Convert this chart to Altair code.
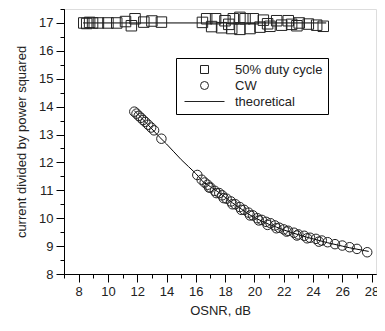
import altair as alt
import pandas as pd

# ---- data ----
duty_x = [8.35, 8.55, 8.75, 8.95, 9.35, 10.0, 10.6, 11.2, 11.85, 12.45, 13.0, 13.65, 11.6,
          16.45, 16.74, 17.35, 17.99, 18.56, 19.01, 19.36, 19.92, 20.61, 21.52, 22.31, 23.06, 23.68, 24.25, 24.7,
          17.08, 17.76, 18.45, 19.01, 19.7, 20.38, 21.06, 21.86, 22.54,
          18.25, 20.9, 22.9]
duty_y = [17.0, 16.98, 17.02, 17.0, 17.0, 17.0, 17.0, 17.05, 17.15, 17.03, 17.07, 17.03, 16.9,
          17.02, 17.15, 17.15, 17.08, 17.15, 17.2, 17.15, 17.15, 17.1, 17.08, 17.08, 17.0, 16.96, 16.92, 16.88,
          16.87, 16.83, 16.8, 16.77, 16.8, 16.85, 16.88, 16.92, 16.95,
          16.95, 16.97, 16.9]

cw_x = [11.8, 11.95, 12.1, 12.25, 12.4, 12.55, 12.75, 12.95, 13.15, 13.65,
        16.1, 16.4, 16.6, 16.8, 17.0, 17.3, 17.6, 17.8, 18.1, 18.4, 18.7, 19.0, 19.3, 19.6, 19.9,
        20.2, 20.5, 20.8, 21.1, 21.4, 21.7, 22.0, 22.3, 22.7, 23.0, 23.4, 23.8, 24.2, 24.6, 25.0,
        25.5, 26.0, 26.5, 27.0, 27.7,
        16.9, 17.4, 17.9, 18.5, 19.1, 19.7, 20.3, 20.9, 21.5, 22.2, 22.9, 23.6, 24.4]
cw_y = [13.82, 13.75, 13.67, 13.6, 13.52, 13.45, 13.35, 13.25, 13.15, 12.85,
        11.55, 11.38, 11.28, 11.2, 11.1, 10.98, 10.9, 10.82, 10.7, 10.6, 10.5, 10.4, 10.3, 10.2, 10.1,
        10.0, 9.94, 9.87, 9.82, 9.74, 9.66, 9.6, 9.55, 9.48, 9.42, 9.37, 9.3, 9.26, 9.2, 9.14,
        9.07, 9.02, 8.96, 8.9, 8.78,
        11.1, 10.9, 10.72, 10.5, 10.3, 10.1, 9.92, 9.76, 9.64, 9.52, 9.38, 9.28, 9.16]

theo_flat_x = [8.3, 24.9]
theo_flat_y = [17.0, 17.0]
theo_curve_x = [11.8, 12.0, 12.5, 13.0, 13.5, 14.0, 14.5, 15.0, 15.5, 16.0, 16.5, 17.0, 17.5, 18.0,
                18.5, 19.0, 19.5, 20.0, 20.5, 21.0, 21.5, 22.0, 22.5, 23.0, 23.5, 24.0, 24.5, 25.0,
                25.5, 26.0, 26.5, 27.0, 27.5, 27.8]
theo_curve_y = [13.85, 13.75, 13.48, 13.2, 12.92, 12.66, 12.38, 12.1, 11.85, 11.6, 11.3, 11.13, 10.95, 10.75,
                10.55, 10.37, 10.18, 10.02, 9.9, 9.78, 9.68, 9.58, 9.49, 9.41, 9.33, 9.26, 9.19, 9.12,
                9.06, 9.0, 8.94, 8.89, 8.84, 8.81]

series_names = ["50% duty cycle", "CW", "theoretical"]

x_major = [8, 10, 12, 14, 16, 18, 20, 22, 24, 26, 28]
x_minor = list(range(7, 29))
y_major = list(range(8, 18))
y_minor = [v / 2 for v in range(16, 36)]

# ---- frames ----
duty_df = pd.DataFrame({"x": duty_x, "y": duty_y, "series": series_names[0]})
cw_df = pd.DataFrame({"x": cw_x, "y": cw_y, "series": series_names[1]})
theo_df = pd.concat([
    pd.DataFrame({"x": theo_flat_x, "y": theo_flat_y, "seg": "flat"}),
    pd.DataFrame({"x": theo_curve_x, "y": theo_curve_y, "seg": "curve"}),
])

FONT = "Liberation Sans"
TXT = "#222222"
xscale = alt.Scale(domain=[7, 28.3], nice=False, zero=False)
yscale = alt.Scale(domain=[8, 17.5], nice=False, zero=False)

shape_scale = alt.Scale(domain=series_names, range=["square", "circle", "M-5,0H5"])

minor_x = alt.X("x:Q", scale=xscale, title=None,
                axis=alt.Axis(values=x_minor, tickSize=4, labels=False, orient="bottom",
                              domainColor="black", tickColor="black", grid=False))
minor_y = alt.Y("y:Q", scale=yscale, title=None,
                axis=alt.Axis(values=y_minor, tickSize=4, labels=False, orient="left",
                              domainColor="black", tickColor="black", grid=False))
major_x = alt.X("x:Q", scale=xscale, title="OSNR, dB",
                axis=alt.Axis(values=x_major, tickSize=8, orient="bottom", labelFont=FONT,
                              labelFontSize=13, labelColor=TXT, labelPadding=3,
                              titleFont=FONT, titleFontSize=13, titleFontWeight="normal",
                              titleColor=TXT, titlePadding=6,
                              domainColor="black", tickColor="black", grid=False))
major_y = alt.Y("y:Q", scale=yscale, title="current divided by power squared",
                axis=alt.Axis(values=y_major, tickSize=8, orient="left", labelFont=FONT,
                              labelFontSize=13, labelColor=TXT, labelPadding=3,
                              titleFont=FONT, titleFontSize=13, titleFontWeight="normal",
                              titleColor=TXT, titlePadding=10,
                              domainColor="black", tickColor="black", grid=False))

line_layer = alt.Chart(theo_df).mark_line(color="black", strokeWidth=1, clip=True).encode(
    x=minor_x, y=minor_y, detail="seg:N")

legend = alt.Legend(title=None, orient="none", legendX=112, legendY=49,
                    strokeColor="black", fillColor="white", padding=5,
                    symbolSize=64, symbolStrokeWidth=1, symbolStrokeColor="#222222",
                    symbolFillColor="transparent", symbolOffset=17,
                    labelFont=FONT, labelFontSize=13, labelColor=TXT, labelOffset=24,
                    rowPadding=2, cornerRadius=0)

duty_layer = alt.Chart(duty_df).mark_point(shape="square", size=110, filled=False,
                                           color="#222222", strokeWidth=1, opacity=1).encode(
    x=major_x, y=major_y,
    shape=alt.Shape("series:N", scale=shape_scale, legend=legend))

cw_layer = alt.Chart(cw_df).mark_point(size=90, filled=False, color="#222222",
                                       strokeWidth=1, opacity=1).encode(
    x=alt.X("x:Q", scale=xscale, axis=None),
    y=alt.Y("y:Q", scale=yscale, axis=None),
    shape=alt.Shape("series:N", scale=shape_scale, legend=legend))

chart = alt.layer(line_layer, duty_layer, cw_layer).resolve_axis(
    x="independent", y="independent").properties(
    width=312, height=265,
    autosize=alt.AutoSizeParams(type="none"),
    padding={"left": 56, "top": 1, "right": 1, "bottom": 48},
).configure_view(stroke=None).configure(background="white")

chart.save("out.html", embed_options={"renderer": "svg", "actions": False})
